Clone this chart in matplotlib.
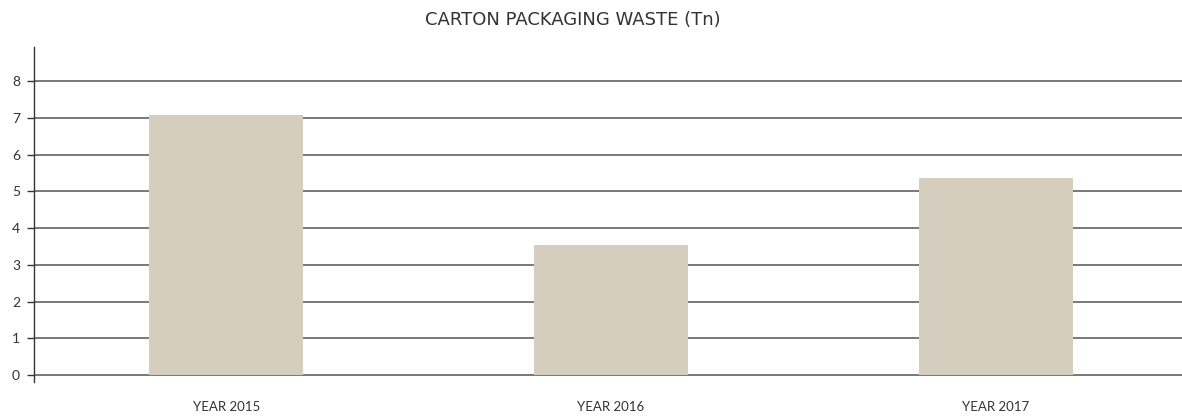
import matplotlib
matplotlib.use("Agg")
import matplotlib.pyplot as plt

categories = ["YEAR 2015", "YEAR 2016", "YEAR 2017"]
values = [7.07, 3.54, 5.36]
yticks = [0, 1, 2, 3, 4, 5, 6, 7, 8]
title = "CARTON PACKAGING WASTE (Tn)"

plt.rcParams['font.family'] = ['Lato', 'DejaVu Sans']

W, H = 1182, 416
fig = plt.figure(figsize=(W / 100, H / 100), dpi=100)
ax = fig.add_axes([34 / W, 34 / H, (1188 - 34) / W, (382 - 47) / H])

x = list(range(len(categories)))
ax.bar(x, values, width=0.4, color="#D5CEBF", zorder=1)

for t in yticks:
    ax.axhline(t, color="#555555", linewidth=1.1, zorder=0)

ax.set_xlim(-0.5, 2.5)
ax.set_ylim(-0.19, 8.925)
ax.set_yticks(yticks)
ax.set_yticklabels([str(t) for t in yticks])
ax.set_xticks(x)
ax.set_xticklabels(categories)

for s in ["top", "right", "bottom"]:
    ax.spines[s].set_visible(False)
ax.spines["left"].set_color("#333333")
ax.spines["left"].set_linewidth(1.0)

ax.tick_params(axis="y", length=5, width=1.0, color="#333333", pad=5,
               labelsize=10, labelcolor="#333333")
ax.tick_params(axis="x", length=0, pad=14, labelsize=9.5, labelcolor="#333333")

fig.text(573 / W, 1 - 20 / H, title, ha="center", va="center",
         fontsize=13, color="#333333", family=["DejaVu Sans"],
         fontweight="normal")

fig.savefig("out.png", dpi=100)
